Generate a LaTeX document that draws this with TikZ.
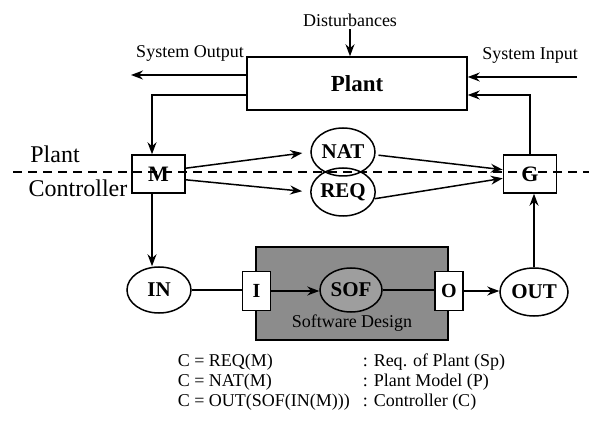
\documentclass[tikz,border=0pt]{standalone}
\usepackage{fontspec}
\setmainfont{Liberation Serif}
\usetikzlibrary{arrows.meta,shapes.geometric}

\begin{document}
\begin{tikzpicture}[x=1pt, y=-1pt, line width=1.5pt,
    font=\fontsize{18}{20}\selectfont,
    every node/.style={inner sep=0pt},
    blk/.style={draw, minimum width=53pt, minimum height=38pt, font=\fontsize{22}{24}\selectfont\bfseries},
    port/.style={draw, fill=white, minimum width=28pt, minimum height=39pt, font=\fontsize{20}{22}\selectfont\bfseries},
    oval/.style={draw, ellipse, minimum width=64pt, minimum height=46pt, font=\fontsize{21}{23}\selectfont\bfseries},
    arr/.style={-{Stealth[length=12pt,width=9pt]}}]
    \useasboundingbox (0,0) rectangle (589,422);

    % plant side
    \node[draw, minimum width=220pt, minimum height=53pt, font=\fontsize{23}{25}\selectfont\bfseries] (plant) at (357,83.5) {Plant};
    \node (dist) at (350,20) {Disturbances};
    \node (sysout) at (190,53) {System Output};
    \node (sysin) at (530,55) {System Input};
    \coordinate (outend) at (131,75);
    \coordinate (inbeg) at (577,77);
    \coordinate (fb) at (152,95);

    \node[font=\fontsize{24}{26}\selectfont] (plantlbl) at (55,154) {Plant};
    \node[font=\fontsize{24}{26}\selectfont] (ctrllbl) at (78,188) {Controller};

    \node[blk] (M) at (158.5,174) {M};
    \node[blk] (G) at (530,174) {G};
    \node[oval, minimum height=48pt] (NAT) at (343,152) {NAT};
    \node[oval, minimum height=48pt] (REQ) at (343,192) {REQ};

    % controller side
    \node[draw, fill=black!45, minimum width=192pt, minimum height=93pt] (sw) at (352,293.5) {};
    \node (swlbl) at (352,323) {Software Design};
    \node[oval, fill=black!38, minimum width=62pt, minimum height=44pt] (SOF) at (351,290) {SOF};
    \node[port] (I) at (256.5,291) {I};
    \node[port] (O) at (449,291) {O};
    \node[oval] (IN) at (159,290) {IN};
    \node[oval, minimum width=68pt, minimum height=48pt] (OUT) at (534,292) {OUT};

    \node[anchor=west] (eq1) at (177,362) {C = REQ(M)};
    \node[anchor=west] (eq2) at (177,382) {C = NAT(M)};
    \node[anchor=west] (eq3) at (177,402) {C = OUT(SOF(IN(M)))};
    \node[anchor=west] (ds1) at (362,362) {: Req. of Plant (Sp)};
    \node[anchor=west] (ds2) at (362,382) {: Plant Model (P)};
    \node[anchor=west] (ds3) at (362,402) {: Controller (C)};

    % connectors
    \draw[arr] ([yshift=-2pt]dist.south) -- (dist.south |- plant.north);
    \draw[arr] (plant.west |- outend) -- (outend);
    \draw[arr] (inbeg) -- (inbeg -| plant.east);
    \draw[arr] (plant.west |- fb) -- (fb) -- (fb |- M.north);
    \draw[arr] (G.north) |- (plant.east |- fb);

    \draw[arr, shorten >=8pt] (M.12) -- (NAT.west);
    \draw[arr, shorten >=8pt] (M.-12) -- (REQ.west);
    \draw[arr, shorten <=3pt] (NAT.-5) -- (G.171);
    \draw[arr] (REQ.-12) -- (G.189);

    \draw[arr] (fb |- M.south) -- (fb |- IN.north);
    \draw (IN.east) -- (IN.east -| I.west);
    \draw[arr] (I.east) -- (I.east -| SOF.west);
    \draw (SOF.east) -- (SOF.east -| O.west);
    \draw[arr] (O.east) -- (O.east -| OUT.west);
    \draw[arr] (OUT.north) -- (OUT.north |- G.south);

    % plant / controller border
    \coordinate (dl) at (13,172);
    \coordinate (dr) at (589,172);
    \draw[dash pattern=on 9pt off 6pt] (dl) -- (dr);
\end{tikzpicture}
\end{document}
